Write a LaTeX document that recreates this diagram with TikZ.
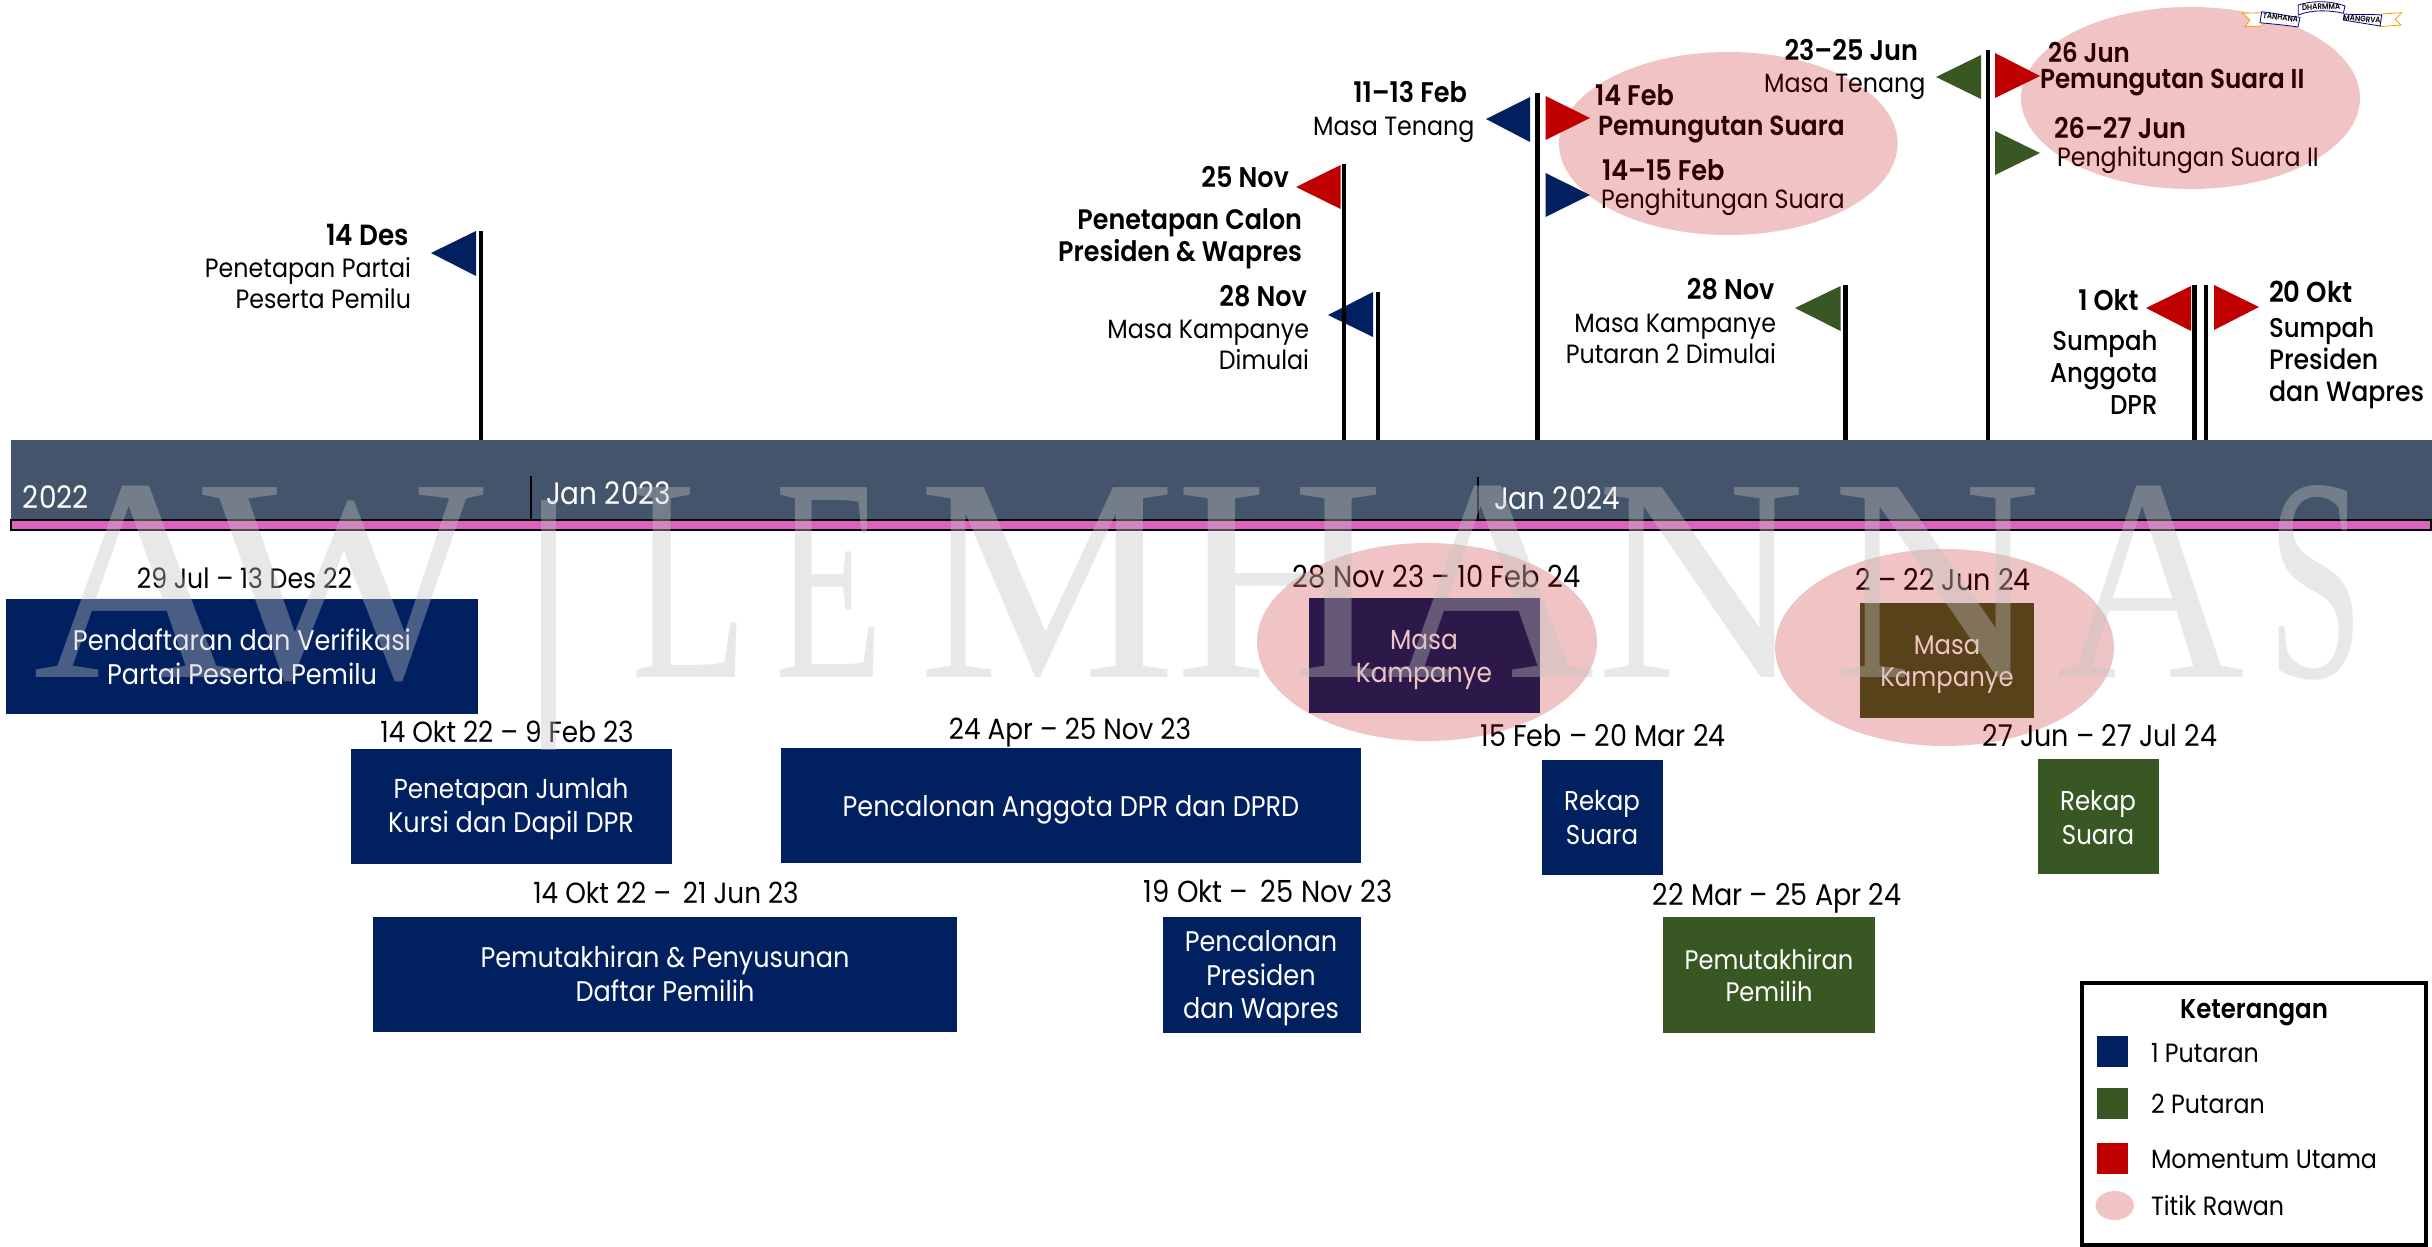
\documentclass[tikz,border=0pt]{standalone}
\usepackage{fontspec}
\setmainfont[FakeStretch=0.9,Ligatures=TeX]{Poppins}
\newfontfamily\semib[FakeStretch=0.9,Ligatures=TeX]{Poppins SemiBold}
\newfontfamily\medf[FakeStretch=0.9,Ligatures=TeX]{Poppins Medium}
\newfontfamily\wmfont{Liberation Serif}
\definecolor{navy}{HTML}{002060}
\definecolor{leaf}{HTML}{385723}
\definecolor{mom}{HTML}{C00000}
\definecolor{slatebar}{HTML}{44546A}
\definecolor{pinkbar}{HTML}{DB62BE}
\definecolor{wmgray}{RGB}{195,195,195}
\tikzset{
 x=0.5pt,y=-0.5pt,
 fs/.style={font=\fontsize{#1}{15}\selectfont},
 bfs/.style={font=\semib\fontsize{#1}{15}\selectfont},
 mfs/.style={font=\medf\fontsize{#1}{15}\selectfont},
 txt/.style={inner sep=0pt,outer sep=0pt,text height=10pt,text depth=0pt,fs=13.2,text=black},
 bld/.style={txt,bfs=13.6},
 med/.style={txt,mfs=13.6},
 dat/.style={txt,fs=14.6},
 wht/.style={txt,text=white,fs=14.2},
 bar/.style={txt,text=white,fs=15.5},
 pole/.style={draw=black,line width=2.2pt},
 hot/.style={fill=mom,fill opacity=.23,draw=none},
 wm/.style={inner sep=0pt,outer sep=0pt,anchor=base,text=wmgray,text opacity=.38,font=\wmfont\fontsize{145}{145}\selectfont},
 ribbon/.style={fill=white,draw=blue!55!black,line width=.4pt},
 ribtail/.style={fill=white,draw=orange!80!yellow,line width=.4pt},
 ribtxt/.style={inner sep=0pt,outer sep=0pt,text=black,font=\semib\fontsize{4}{4}\selectfont},
}
\newcommand{\flagtri}[6]{\fill[#1] (#2,#3) -- (#4,#5) -- (#2,#6) -- cycle;}
\begin{document}
\begin{tikzpicture}
\useasboundingbox (0,0) rectangle (2432,1247);
\fill[white] (0,0) rectangle (2432,1247);
% bar
\fill[slatebar] (11,440) rectangle (2432,521);
\draw[fill=pinkbar,draw=black,line width=1.3pt] (11,520) rectangle (2431,530);
\draw[black,line width=1pt] (531,476) -- (531,519);
\draw[black,line width=1pt] (1478,477) -- (1478,519);
\node[bar,anchor=west] (y22) at (23,498) {2022};
\node[bar,anchor=west] (y23) at (546,494) {Jan 2023};
\node[bar,anchor=west] (y24) at (1494,499) {Jan 2024};
% flags
\flagtri{navy}{476}{231}{431}{253}{276}
\flagtri{mom}{1340.6}{165}{1296}{187}{209}
\flagtri{navy}{1373}{292}{1328}{315}{337}
\flagtri{navy}{1530}{97}{1486}{119}{142}
\flagtri{mom}{1545.5}{96}{1590}{118}{140}
\flagtri{navy}{1545.5}{173}{1590}{195}{217}
\flagtri{leaf}{1840.6}{286}{1795}{308}{331}
\flagtri{leaf}{1981}{55}{1936}{77}{99}
\flagtri{mom}{1995}{53}{2040}{76}{98}
\flagtri{leaf}{1995}{131}{2040}{153}{175}
\flagtri{mom}{2191}{286}{2146}{308}{331}
\flagtri{mom}{2214}{285}{2259}{307}{330}
% poles
\foreach \px/\py in {480.7/231,1344/164,1378/292,1537.6/93,1845.5/285,1988/50,2194.6/285,2206/285}
  \draw[pole] (\px,\py) -- (\px,440);
% flag labels
\node[bld,bfs=14.6,anchor=east] (a1) at (409,235) {14 Des};
\node[txt,anchor=east] (a2) at (411,267) {Penetapan Partai};
\node[txt,anchor=east] (a3) at (411,298) {Peserta Pemilu};
\node[bld,bfs=14.2,anchor=east] (b1) at (1289,178) {25 Nov};
\node[bld,bfs=14.1,anchor=east] (b2) at (1302,219) {Penetapan Calon};
\node[bld,bfs=14.1,anchor=east] (b3) at (1302,251) {Presiden \& Wapres};
\node[bld,bfs=14.2,anchor=east] (c1) at (1307,296) {28 Nov};
\node[txt,anchor=east] (c2) at (1309,328) {Masa Kampanye};
\node[txt,anchor=east] (c3) at (1309,359) {Dimulai};
\node[bld,bfs=14.2,anchor=east] (d1) at (1467,93) {11–13 Feb};
\node[txt,anchor=east] (d2) at (1474.5,125) {Masa Tenang};
\node[bld,bfs=14.2,anchor=west] (e1) at (1595,96) {14 Feb};
\node[bld,bfs=13.8,anchor=west] (e2) at (1598,125) {Pemungutan Suara};
\node[bld,bfs=14.2,anchor=west] (e3) at (1602,171) {14–15 Feb};
\node[txt,anchor=west] (e4) at (1601,198) {Penghitungan Suara};
\node[bld,bfs=14.2,anchor=east] (f1) at (1774.5,289) {28 Nov};
\node[txt,anchor=east] (f2) at (1776,322) {Masa Kampanye};
\node[txt,anchor=east] (f3) at (1776,353) {Putaran 2 Dimulai};
\node[bld,bfs=14.2,anchor=east] (g1) at (1918,51) {23–25 Jun};
\node[txt,anchor=east] (g2) at (1925.5,83) {Masa Tenang};
\node[bld,bfs=13.6,anchor=west] (h1) at (2048,53) {26 Jun};
\node[bld,bfs=13.7,anchor=west] (h2) at (2040,79) {Pemungutan Suara II};
\node[bld,bfs=14.2,anchor=west] (h3) at (2054,129) {26–27 Jun};
\node[txt,anchor=west] (h4) at (2057,157) {Penghitungan Suara II};
\node[bld,bfs=14.2,anchor=east] (i1) at (2138.5,300) {1 Okt};
\node[med,anchor=east] (i2) at (2157.5,340) {Sumpah};
\node[med,anchor=east] (i3) at (2157.5,372) {Anggota};
\node[med,anchor=east] (i4) at (2157.5,404) {DPR};
\node[bld,bfs=14.4,anchor=west] (j1) at (2269,292) {20 Okt};
\node[med,anchor=west] (j2) at (2269,327) {Sumpah};
\node[med,mfs=14,anchor=west] (j3) at (2269,359) {Presiden};
\node[med,mfs=14,anchor=west] (j4) at (2269,391) {dan Wapres};
% boxes
\fill[navy] (6,599) rectangle (478,714);
\fill[navy] (351,749) rectangle (672,864);
\fill[navy] (781,748) rectangle (1361,863);
\fill[navy] (373,917) rectangle (957,1032);
\fill[navy] (1162.5,917) rectangle (1361,1033);
\fill[navy] (1309,598) rectangle (1540,713);
\fill[leaf] (1860,603) rectangle (2034,718);
\fill[navy] (1542,760) rectangle (1663,875);
\fill[leaf] (2038,759) rectangle (2159,874);
\fill[leaf] (1663,917) rectangle (1875,1033);
% box text
\node[wht] (t1a) at (242,640) {Pendaftaran dan Verifikasi};
\node[wht] (t1b) at (242,674) {Partai Peserta Pemilu};
\node[wht,fs=13.7] (t2a) at (511,788) {Penetapan Jumlah};
\node[wht] (t2b) at (511,822) {Kursi dan Dapil DPR};
\node[wht] (t3) at (1071,806) {Pencalonan Anggota DPR dan DPRD};
\node[wht] (t4a) at (665,957) {Pemutakhiran \& Penyusunan};
\node[wht] (t4b) at (665,991) {Daftar Pemilih};
\node[wht] (t5a) at (1261,941) {Pencalonan};
\node[wht] (t5b) at (1261,975) {Presiden};
\node[wht] (t5c) at (1261,1008) {dan Wapres};
\node[wht,fs=13.8] (t6a) at (1424,639) {Masa};
\node[wht,fs=13.8] (t6b) at (1424,672) {Kampanye};
\node[wht,fs=13.5] (t7a) at (1947,644) {Masa};
\node[wht,fs=13.5] (t7b) at (1947,676) {Kampanye};
\node[wht,fs=13.6] (t8a) at (1602,800) {Rekap};
\node[wht,fs=13.6] (t8b) at (1602,834) {Suara};
\node[wht,fs=13.6] (t9a) at (2098,800) {Rekap};
\node[wht,fs=13.6] (t9b) at (2098,834) {Suara};
\node[wht,fs=13.4] (t10a) at (1769,959) {Pemutakhiran};
\node[wht,fs=13.4] (t10b) at (1769,991) {Pemilih};
% dates
\node[dat,fs=14] (d01) at (244.4,578) {29 Jul – 13 Des 22};
\node[dat] (d02) at (507,732) {14 Okt 22 – 9 Feb 23};
\node[dat] (d03) at (1070,729) {24 Apr – 25 Nov 23};
\node[dat] (d04) at (666,893) {14 Okt 22 –\, 21 Jun 23};
\node[dat,fs=15.2] (d05) at (1268,892) {19 Okt –\, 25 Nov 23};
\node[dat,fs=15.2] (d06) at (1436.5,577) {28 Nov 23 – 10 Feb 24};
\node[dat,fs=15] (d07) at (1943,580) {2 – 22 Jun 24};
\node[dat,fs=15] (d08) at (1603,736) {15 Feb – 20 Mar 24};
\node[dat,fs=15] (d09) at (2100,736) {27 Jun – 27 Jul 24};
\node[dat,fs=15] (d10) at (1777,895) {22 Mar – 25 Apr 24};
% hot ellipses
\fill[hot] (1427,642) ellipse [x radius=170,y radius=99];
\fill[hot] (1944.5,647.5) ellipse [x radius=169.5,y radius=98.5];
\fill[hot] (1728.3,143.5) ellipse [x radius=169.3,y radius=91.5];
\fill[hot] (2190.5,98) ellipse [x radius=169.5,y radius=91];
% legend
\draw[black,line width=2pt,fill=white] (2082,983) rectangle (2426,1245);
\fill[navy] (2097,1036) rectangle (2128,1067);
\fill[leaf] (2097,1088) rectangle (2128,1119);
\fill[mom] (2097,1143) rectangle (2128,1174);
\fill[hot] (2114.7,1205.5) ellipse [x radius=19.2,y radius=14.5];
\node[bld] (k0) at (2254,1008) {Keterangan};
\node[txt,anchor=west] (k1) at (2151,1052) {1 Putaran};
\node[txt,anchor=west] (k2) at (2151,1103) {2 Putaran};
\node[txt,anchor=west] (k3) at (2151,1158) {Momentum Utama};
\node[txt,anchor=west] (k4) at (2151,1205) {Titik Rawan};
% watermark
\node[wm] (w1) at (138,677) {A};
\node[wm,xscale=1.03,transform shape] (w2) at (343,677) {W};
\fill[wmgray,opacity=.38] (541,500) rectangle (556,750);
\node[wm,xscale=.66,transform shape] (w3) at (690,677) {L};
\node[wm,xscale=.61,transform shape] (w4) at (830,677) {E};
\node[wm] (w5) at (1047,677) {M};
\node[wm] (w6) at (1280,677) {H};
\node[wm] (w7) at (1490,677) {A};
\node[wm] (w8) at (1701,677) {N};
\node[wm] (w9) at (1937,677) {N};
\node[wm,xscale=.9,transform shape] (w10) at (2151,677) {A};
\node[wm,xscale=.6,transform shape] (w11) at (2316,677) {S};
% logo ribbon
\filldraw[ribtail] (2242.3,13.3) -- (2262,12.7) -- (2262,26) -- (2245,26.7) -- (2250,20) -- cycle;
\filldraw[ribtail] (2381.7,14) -- (2401.7,12.7) -- (2395,19.3) -- (2401,25) -- (2380,26.7) -- cycle;
\filldraw[ribbon] (2261.7,11.7) .. controls (2275,13) and (2285,16) .. (2300,17.3) -- (2298,27) .. controls (2285,25) and (2272,24) .. (2260,22.7) -- cycle;
\filldraw[ribbon] (2344.3,14) .. controls (2355,15) and (2368,14) .. (2381.7,15) -- (2380,26) .. controls (2368,24) and (2355,22) .. (2343.3,20) -- cycle;
\filldraw[ribbon] (2298.3,5) .. controls (2312,0.5) and (2330,0.5) .. (2345,6) -- (2343.3,13.3) .. controls (2330,10) and (2312,9.5) .. (2298.3,15) -- cycle;
\node[ribtxt,rotate=-7] (r1) at (2280.5,17.5) {TANHANA};
\node[ribtxt,rotate=2] (r2) at (2321,6.8) {DHARMMA};
\node[ribtxt,rotate=-5] (r3) at (2362,19) {MANGRVA};
\end{tikzpicture}
\end{document}
